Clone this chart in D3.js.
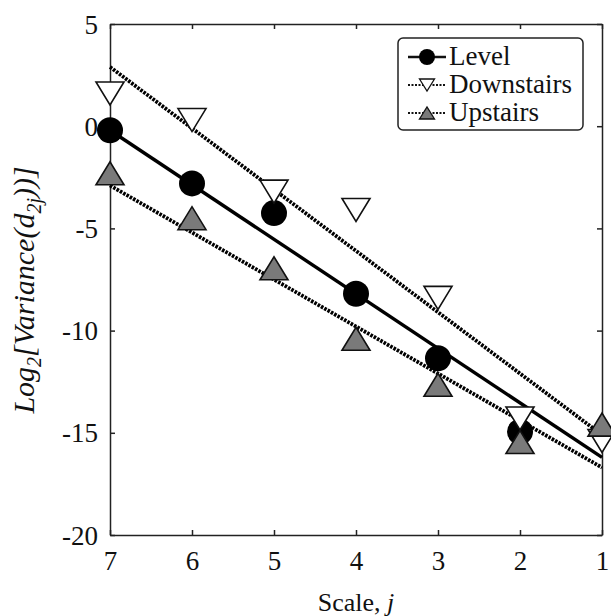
<!DOCTYPE html>
<html>
<head>
    <meta charset="utf-8">
    <script src="https://cdnjs.cloudflare.com/ajax/libs/d3/7.8.5/d3.min.js"></script>
    <style>
        body { margin: 0; background: white; }
        svg { font-family: "Liberation Serif", "Times New Roman", serif; }
        .axis text { font-size: 27px; fill: #111; font-family: "Liberation Serif", serif; }
        .axis path, .axis line { stroke: #222; stroke-width: 1.5; }
    </style>
</head>
<body>
    <div id="chart"></div>
    <script>
        // scale index j (x axis runs 7 -> 1)
        const scales = [7, 6, 5, 4, 3, 2, 1];
        const level = [-0.2, -2.8, -4.25, -8.2, -11.35, -14.95, null];
        const downstairs = [1.6, 0.3, -3.2, -4.1, -8.4, -14.3, -15.4];
        const upstairs = [-2.3, -4.5, -6.95, -10.4, -12.65, -15.45, -14.6];

        // fitted lines, value at j=7 and j=1
        const fitEnds = [7, 1];
        const levelFit = [-0.2, -16.2];
        const downFit = [2.9, -15.1];
        const upFit = [-2.9, -16.7];

        const xTicks = [7, 6, 5, 4, 3, 2, 1];
        const yTicks = [5, 0, -5, -10, -15, -20];

        const W = 611, H = 616;
        const margin = {top: 24, right: 9, bottom: 81, left: 110};

        const svg = d3.select('#chart')
            .append('svg')
            .attr('width', W)
            .attr('height', H);

        const x = d3.scaleLinear().domain([7, 1]).range([margin.left, W - margin.right]);
        const y = d3.scaleLinear().domain([-20, 5]).range([H - margin.bottom, margin.top]);

        const plain = d => String(d);

        // axes, ticks pointing inward on all four sides
        svg.append('g')
            .attr('class', 'axis')
            .attr('transform', `translate(0,${y(-20)})`)
            .call(d3.axisBottom(x).tickValues(xTicks).tickSize(-5).tickSizeOuter(0)
                .tickPadding(35).tickFormat(plain))
            .selectAll('text').attr('dy', null);
        svg.append('g')
            .attr('class', 'axis')
            .attr('transform', `translate(0,${y(5)})`)
            .call(d3.axisTop(x).tickValues(xTicks).tickSize(-5).tickSizeOuter(0).tickFormat(''));
        svg.append('g')
            .attr('class', 'axis')
            .attr('transform', `translate(${x(7)},0)`)
            .call(d3.axisLeft(y).tickValues(yTicks).tickSize(-5).tickSizeOuter(0)
                .tickPadding(12).tickFormat(plain))
            .selectAll('text').attr('dy', '0.34em');
        svg.append('g')
            .attr('class', 'axis')
            .attr('transform', `translate(${x(1)},0)`)
            .call(d3.axisRight(y).tickValues(yTicks).tickSize(-5).tickSizeOuter(0).tickFormat(''));

        // fitted lines
        const fitLine = d3.line().x(d => x(d[0])).y(d => y(d[1]));
        const dotted = '2.6 1.2';
        svg.append('path')
            .attr('d', fitLine(fitEnds.map((j, i) => [j, downFit[i]])))
            .attr('stroke', '#000').attr('stroke-width', 3.8).attr('fill', 'none')
            .attr('stroke-dasharray', dotted);
        svg.append('path')
            .attr('d', fitLine(fitEnds.map((j, i) => [j, upFit[i]])))
            .attr('stroke', '#000').attr('stroke-width', 3.8).attr('fill', 'none')
            .attr('stroke-dasharray', dotted);
        svg.append('path')
            .attr('d', fitLine(fitEnds.map((j, i) => [j, levelFit[i]])))
            .attr('stroke', '#000').attr('stroke-width', 3.4).attr('fill', 'none');

        // marker shapes
        function triDown(w, h) {
            return `M${-w / 2},${-h / 2}L${w / 2},${-h / 2}L0,${h / 2}Z`;
        }
        function triUp(w, h) {
            return `M${-w / 2},${h / 2}L${w / 2},${h / 2}L0,${-h / 2}Z`;
        }

        const levelPts = scales.map((j, i) => [j, level[i]]).filter(d => d[1] !== null);
        const downPts = scales.map((j, i) => [j, downstairs[i]]);
        const upPts = scales.map((j, i) => [j, upstairs[i]]);

        svg.selectAll('.lvl').data(levelPts).enter()
            .append('circle')
            .attr('cx', d => x(d[0])).attr('cy', d => y(d[1]))
            .attr('r', 13).attr('fill', '#000');

        svg.selectAll('.dn').data(downPts).enter()
            .append('path')
            .attr('transform', d => `translate(${x(d[0])},${y(d[1])})`)
            .attr('d', triDown(28, 23))
            .attr('fill', 'white').attr('stroke', '#111').attr('stroke-width', 1.6);

        svg.selectAll('.up').data(upPts).enter()
            .append('path')
            .attr('transform', d => `translate(${x(d[0])},${y(d[1])})`)
            .attr('d', triUp(28, 23))
            .attr('fill', '#7a7a7a').attr('stroke', '#111').attr('stroke-width', 1.6);

        // legend
        const legend = svg.append('g');
        legend.append('rect')
            .attr('x', 398).attr('y', 38).attr('width', 185).attr('height', 92)
            .attr('rx', 5).attr('fill', 'white').attr('stroke', '#222').attr('stroke-width', 1.5);

        const legendItems = [
            {name: 'Level', cy: 57, dash: null},
            {name: 'Downstairs', cy: 85, dash: '2 1.5'},
            {name: 'Upstairs', cy: 113, dash: '2 1.5'}
        ];
        legendItems.forEach((it, i) => {
            legend.append('line')
                .attr('x1', 408).attr('x2', 446).attr('y1', it.cy).attr('y2', it.cy)
                .attr('stroke', '#111').attr('stroke-width', i === 0 ? 2.5 : 2)
                .attr('stroke-dasharray', it.dash);
            if (i === 0) {
                legend.append('circle').attr('cx', 427).attr('cy', it.cy).attr('r', 8).attr('fill', '#000');
            } else if (i === 1) {
                legend.append('path').attr('transform', `translate(427,${it.cy})`)
                    .attr('d', triDown(15, 12)).attr('fill', 'white').attr('stroke', '#111').attr('stroke-width', 1.3);
            } else {
                legend.append('path').attr('transform', `translate(427,${it.cy})`)
                    .attr('d', triUp(15, 12)).attr('fill', '#7a7a7a').attr('stroke', '#111').attr('stroke-width', 1.3);
            }
            legend.append('text')
                .attr('x', 449).attr('y', it.cy + 8)
                .style('font-size', '27px').style('fill', '#111')
                .text(it.name);
        });

        // axis titles
        const xTitle = svg.append('text')
            .attr('x', (x(7) + x(1)) / 2).attr('y', 611)
            .attr('text-anchor', 'middle')
            .style('font-size', '26px').style('fill', '#111');
        xTitle.append('tspan').text('Scale, ');
        xTitle.append('tspan').style('font-style', 'italic').text('j');

        const yTitle = svg.append('text')
            .attr('transform', 'translate(34,290) rotate(-90)')
            .attr('text-anchor', 'middle')
            .style('font-size', '30px').style('font-style', 'italic').style('fill', '#111');
        yTitle.append('tspan').text('Log');
        yTitle.append('tspan').attr('dy', 7).style('font-size', '20px').text('2');
        yTitle.append('tspan').attr('dy', -7).text('[Variance(d');
        yTitle.append('tspan').attr('dy', 7).style('font-size', '20px').text('2j');
        yTitle.append('tspan').attr('dy', -7).text('))]');
    </script>
</body>
</html>
